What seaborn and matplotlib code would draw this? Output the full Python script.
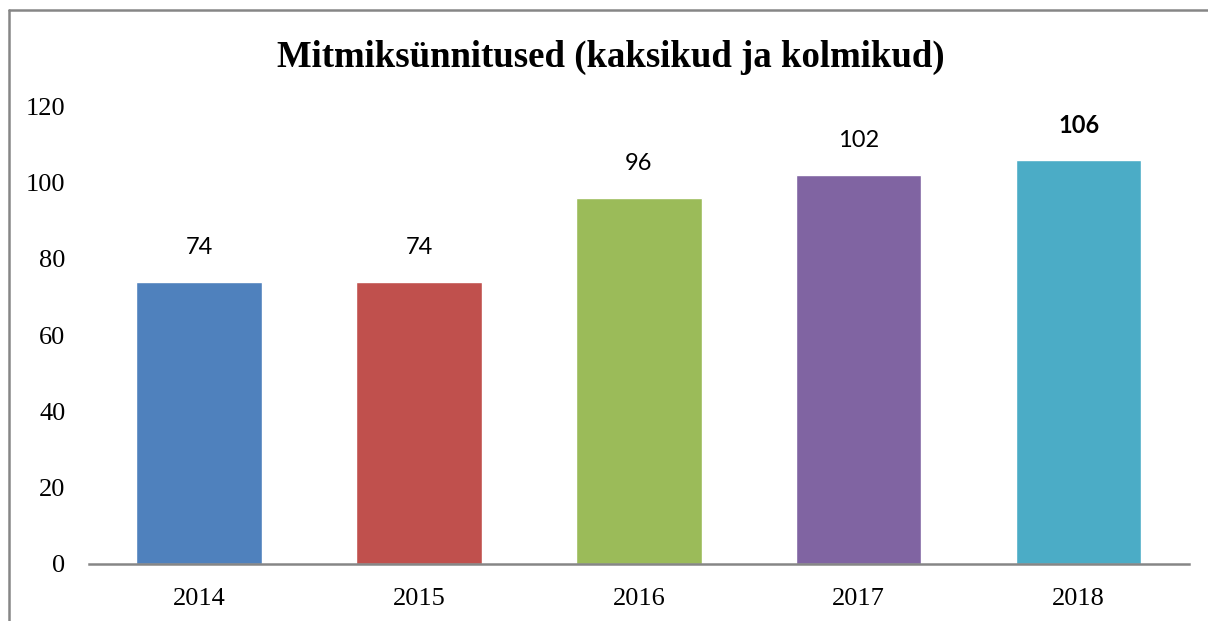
import pandas as pd
import seaborn as sns
import matplotlib.pyplot as plt
from matplotlib.lines import Line2D

# data
years = ['2014', '2015', '2016', '2017', '2018']
births = [74, 74, 96, 102, 106]
colors = ['#4F81BD', '#C0504D', '#9BBB59', '#8064A2', '#4BACC6']
df = pd.DataFrame({'year': years, 'births': births})

sns.set_style('white')
fig = plt.figure(figsize=(12.08, 6.21), dpi=100)
ax = fig.add_axes([0.0737, 0.0918, 0.9103, 0.7372])

sns.barplot(data=df, x='year', y='births', hue='year', palette=colors,
            width=0.57, saturation=1, legend=False, ax=ax)

ax.set_ylim(0, 120)
ax.set_xlim(-0.5, 4.5)
ax.set_yticks(range(0, 121, 20))
ax.set_xlabel('')
ax.set_ylabel('')
for s in ['top', 'right', 'left']:
    ax.spines[s].set_visible(False)
ax.spines['bottom'].set_color('#868686')
ax.spines['bottom'].set_linewidth(1.8)
ax.tick_params(length=0, labelsize=19, labelcolor='black')
ax.tick_params(axis='x', pad=17)
ax.tick_params(axis='y', pad=17)
for t in ax.get_xticklabels() + ax.get_yticklabels():
    t.set_fontfamily('Liberation Serif')

# value labels
for i, v in enumerate(births):
    ax.annotate(str(v), (i, v), xytext=(0, 24.5), textcoords='offset points',
                ha='center', va='center', fontsize=17, family='Lato', color='black',
                fontweight='bold' if i == len(births) - 1 else 'normal')

fig.text(0.506, 0.908, 'Mitmiksünnitused (kaksikud ja kolmikud)', ha='center', va='center',
         fontsize=26.5, fontweight='bold', family='Liberation Serif', color='black')

# chart frame (top and left edges visible)
fig.add_artist(Line2D([0.0075, 1.0], [0.9847, 0.9847], color='#868686', lw=1.8, transform=fig.transFigure))
fig.add_artist(Line2D([0.0075, 0.0075], [0.0, 0.9847], color='#868686', lw=1.8, transform=fig.transFigure))

fig.savefig('out.png', dpi=100)
